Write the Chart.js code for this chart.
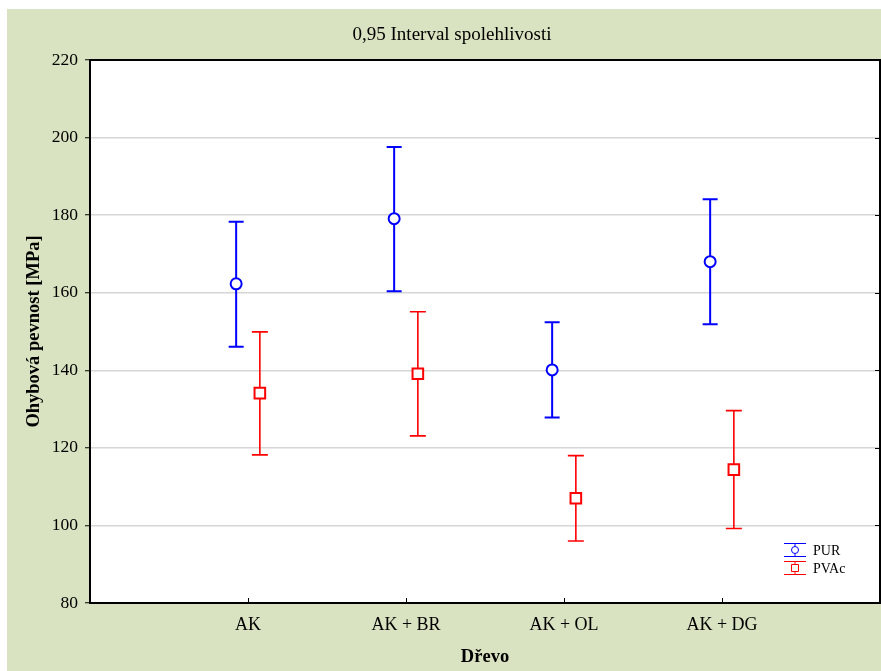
<!DOCTYPE html>
<html>
<head>
<meta charset="utf-8">
<script src="https://cdn.jsdelivr.net/npm/chart.js@4/dist/chart.umd.min.js"></script>
<style>
  html, body { margin: 0; padding: 0; background: #fff; overflow: hidden; }
  #panel { position: absolute; left: 7px; top: 9px; width: 874px; height: 662px; overflow: hidden; background: #d9e3c1; }
  #chart { display: block; }
</style>
</head>
<body>
<div id="panel"><canvas id="chart" width="890" height="662"></canvas></div>
<script>
// wood combinations on the x axis
const categories = ['AK', 'AK + BR', 'AK + OL', 'AK + DG'];

// PUR glue: mean and 0.95 confidence limits
const purMean = [162.3, 179.1, 140.1, 168.0];
const purLow = [146.1, 160.4, 127.8, 151.9];
const purHigh = [178.3, 197.6, 152.4, 184.1];

// PVAc glue
const pvacMean = [134.1, 139.1, 107.0, 114.4];
const pvacLow = [118.2, 123.1, 96.0, 99.2];
const pvacHigh = [149.9, 155.1, 118.0, 129.6];

const yTicks = [80, 100, 120, 140, 160, 180, 200, 220];

function points(mean, low, high, shift) {
    return mean.map(function (m, i) {
        return { x: i + shift, y: m, lo: low[i], hi: high[i] };
    });
}

// whiskers under the markers
const errorBars = {
    id: 'errorBars',
    beforeDatasetsDraw(chart) {
        const ctx = chart.ctx;
        const y = chart.scales.y;
        chart.data.datasets.forEach(function (ds, di) {
            const meta = chart.getDatasetMeta(di);
            ctx.save();
            ctx.strokeStyle = ds.borderColor;
            ctx.lineWidth = ds.barWidth;
            meta.data.forEach(function (el, i) {
                const p = ds.data[i];
                const top = y.getPixelForValue(p.hi);
                const bot = y.getPixelForValue(p.lo);
                ctx.beginPath();
                ctx.moveTo(el.x, top); ctx.lineTo(el.x, bot);
                ctx.moveTo(el.x - ds.cap, top); ctx.lineTo(el.x + ds.cap, top);
                ctx.moveTo(el.x - ds.cap, bot); ctx.lineTo(el.x + ds.cap, bot);
                ctx.stroke();
            });
            ctx.restore();
        });
    }
};

// white plot area, top frame, inward ticks and the little legend
const frame = {
    id: 'frame',
    beforeDraw(chart) {
        const a = chart.chartArea;
        chart.ctx.save();
        chart.ctx.fillStyle = '#ffffff';
        chart.ctx.fillRect(a.left, a.top, a.right - a.left, a.bottom - a.top);
        chart.ctx.restore();
    },
    afterDraw(chart) {
        const ctx = chart.ctx;
        const a = chart.chartArea;
        const x = chart.scales.x;
        const y = chart.scales.y;
        ctx.save();
        ctx.strokeStyle = '#000';
        ctx.lineWidth = 2;
        ctx.beginPath();
        ctx.moveTo(a.left - 1, a.top); ctx.lineTo(a.right + 1, a.top);
        ctx.stroke();
        ctx.lineWidth = 1;
        ctx.beginPath();
        x.ticks.forEach(function (t) {
            const px = Math.round(x.getPixelForValue(t.value)) + 0.5;
            ctx.moveTo(px, a.bottom); ctx.lineTo(px, a.bottom - 5);
        });
        y.ticks.forEach(function (t) {
            const py = Math.round(y.getPixelForValue(t.value)) + 0.5;
            ctx.moveTo(a.right, py); ctx.lineTo(a.right - 5, py);
        });
        ctx.stroke();

        // legend
        const lx = 788, rows = [541, 559];
        ctx.font = '14px "Liberation Serif"';
        ctx.textBaseline = 'middle';
        chart.data.datasets.forEach(function (ds, i) {
            const ly = rows[i];
            ctx.strokeStyle = ds.borderColor;
            ctx.lineWidth = 1;
            ctx.beginPath();
            ctx.moveTo(lx - 11, ly - 6.5); ctx.lineTo(lx + 11, ly - 6.5);
            ctx.moveTo(lx - 11, ly + 6.5); ctx.lineTo(lx + 11, ly + 6.5);
            ctx.moveTo(lx, ly - 6.5); ctx.lineTo(lx, ly + 6.5);
            ctx.stroke();
            ctx.fillStyle = '#fff';
            ctx.beginPath();
            if (ds.pointStyle === 'circle') ctx.arc(lx, ly, 3.5, 0, Math.PI * 2);
            else ctx.rect(lx - 3.5, ly - 3.5, 7, 7);
            ctx.fill(); ctx.stroke();
            ctx.fillStyle = '#000';
            ctx.fillText(ds.label, lx + 18, ly + 1);
        });
        ctx.restore();
    }
};

const ctx = document.getElementById('chart').getContext('2d');
new Chart(ctx, {
    type: 'scatter',
    data: {
        datasets: [{
            label: 'PUR',
            data: points(purMean, purLow, purHigh, -0.075),
            borderColor: '#0000ff',
            backgroundColor: '#ffffff',
            pointStyle: 'circle',
            pointRadius: 5.5,
            pointBorderWidth: 2,
            barWidth: 2,
            cap: 7.5,
        }, {
            label: 'PVAc',
            data: points(pvacMean, pvacLow, pvacHigh, 0.075),
            borderColor: '#ff0000',
            backgroundColor: '#ffffff',
            pointStyle: 'rect',
            pointRadius: 7.5,
            pointBorderWidth: 2,
            barWidth: 1.6,
            cap: 8,
        }]
    },
    options: {
        responsive: false,
        animation: false,
        devicePixelRatio: 1,
        layout: { padding: 0 },
        scales: {
            x: {
                type: 'linear',
                min: -1,
                max: 4,
                afterBuildTicks: function (scale) {
                    scale.ticks = categories.map(function (c, i) { return { value: i }; });
                },
                afterFit: function (scale) { scale.height = 68; },
                ticks: {
                    autoSkip: false,
                    maxRotation: 0,
                    padding: 11,
                    color: '#000',
                    font: { family: 'Liberation Serif', size: 18 },
                    callback: function (v, i) { return categories[i]; }
                },
                grid: { display: false, drawTicks: false },
                border: { display: true, color: '#000', width: 2 },
                title: {
                    display: true,
                    text: 'Dřevo',
                    color: '#000',
                    font: { family: 'Liberation Serif', size: 18.5, weight: 'bold' },
                    padding: { top: 0, bottom: 3 }
                }
            },
            y: {
                min: 80,
                max: 220,
                afterBuildTicks: function (scale) {
                    scale.ticks = yTicks.map(function (v) { return { value: v }; });
                },
                afterFit: function (scale) { scale.width = 83; },
                ticks: {
                    padding: 7,
                    color: '#000',
                    font: { family: 'Liberation Serif', size: 17.5 }
                },
                grid: { color: '#d6d6d6', lineWidth: 1.5, tickColor: '#000', tickLength: 5, tickWidth: 1 },
                border: { display: true, color: '#000', width: 2 },
                title: {
                    display: true,
                    text: 'Ohybová pevnost [MPa]',
                    color: '#000',
                    font: { family: 'Liberation Serif', size: 18.5, weight: 'bold' },
                    padding: { top: 16, bottom: 0 }
                }
            },
            // right frame edge; the rest of the original plot is cut off
            yRight: {
                position: 'right',
                min: 80,
                max: 220,
                afterFit: function (scale) { scale.width = 17; },
                ticks: { display: false },
                grid: { display: false, drawTicks: false },
                border: { display: true, color: '#000', width: 2 }
            }
        },
        plugins: {
            legend: { display: false },
            tooltip: { enabled: false },
            title: {
                display: true,
                text: '0,95 Interval spolehlivosti',
                color: '#000',
                font: { family: 'Liberation Serif', size: 19, weight: 'normal' },
                padding: { top: 14.6, bottom: 13.6 }
            }
        }
    },
    plugins: [errorBars, frame]
});
</script>
</body>
</html>
